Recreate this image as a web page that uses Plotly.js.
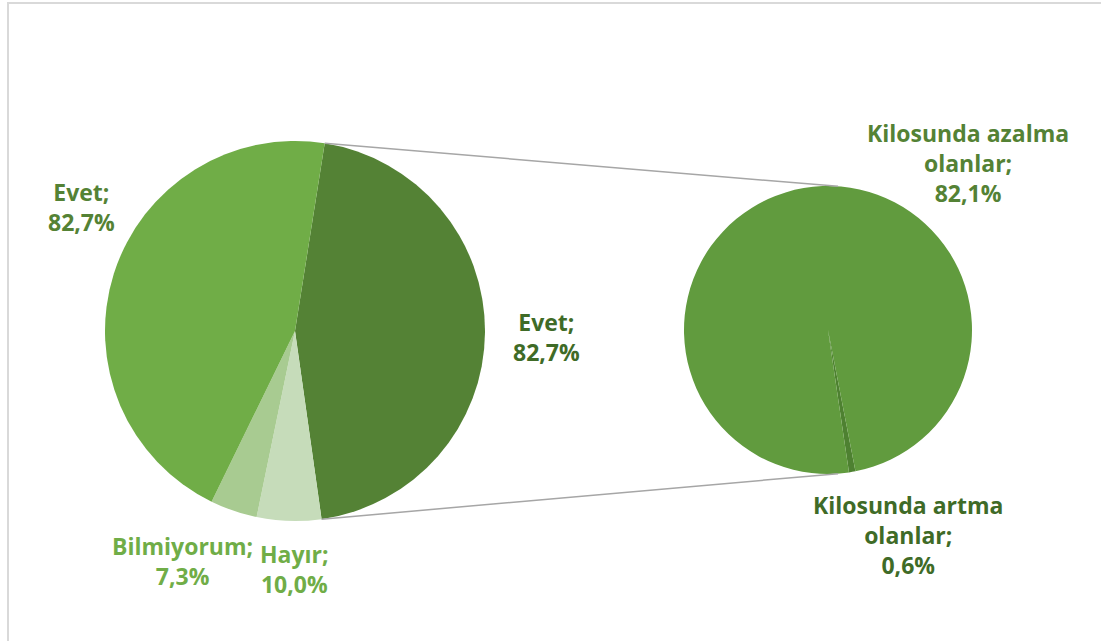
<!DOCTYPE html>
<html><head><meta charset="utf-8">
<script src="https://cdn.plot.ly/plotly-3.0.1.min.js"></script>
<style>
html,body{margin:0;padding:0;background:#fff;}
#chart{width:1101px;height:641px;}
</style></head>
<body><div id="chart"></div>
<script>
// Main pie (order as drawn clockwise from the split slice)
var mainLabels = ["Evet", "Hayır", "Bilmiyorum", "Evet"];
var mainValues = [82.7, 10.0, 7.3, 82.7];
var mainColors = ["#548235", "#C6DCBA", "#A8CB91", "#70AD47"];
var mainLabelColors = ["#3F6B27", "#70AD47", "#70AD47", "#548235"];

// Secondary pie (split of the dark slice)
var subLabels = ["Kilosunda artma olanlar", "Kilosunda azalma olanlar"];
var subValues = [0.6, 82.1];
var subColors = ["#4E8131", "#619B3E"];
var subLabelColors = ["#3F6B27", "#548235"];

var W = 1101, H = 641;
function fmt(v){ return v.toFixed(1).replace('.', ',') + '%'; }
function px(x){ return x / W; }
function py(y){ return 1 - y / H; }

// geometry (layout)
var c1 = {x: 295, y: 331, r: 190}, rot1 = 9;
var c2 = {x: 828, y: 330, r: 144}, rot2 = 169;

var data = [
  {
    type: 'pie', values: mainValues, labels: mainLabels.map(function(l,i){return l+i;}),
    sort: false, direction: 'clockwise', rotation: rot1,
    marker: {colors: mainColors, line: {width: 0}},
    textinfo: 'none', hoverinfo: 'none', showlegend: false,
    domain: {x: [px(c1.x - c1.r), px(c1.x + c1.r)], y: [py(c1.y + c1.r), py(c1.y - c1.r)]}
  },
  {
    type: 'pie', values: subValues, labels: subLabels,
    sort: false, direction: 'clockwise', rotation: rot2,
    marker: {colors: subColors, line: {width: 0}},
    textinfo: 'none', hoverinfo: 'none', showlegend: false,
    domain: {x: [px(c2.x - c2.r), px(c2.x + c2.r)], y: [py(c2.y + c2.r), py(c2.y - c2.r)]}
  }
];

// connector lines from split slice edges to the second pie
var total = mainValues.reduce(function(a,b){return a+b;}, 0);
var a0 = rot1 * Math.PI / 180;
var a1 = (rot1 + 360 * mainValues[0] / total) * Math.PI / 180;
function onCircle(c, a){ return {x: c.x + c.r * Math.sin(a), y: c.y - c.r * Math.cos(a)}; }
var p0 = onCircle(c1, a0), p1 = onCircle(c1, a1);
var q0 = onCircle(c2, 4 * Math.PI / 180), q1 = onCircle(c2, 176 * Math.PI / 180);

var shapes = [
  {type: 'rect', xref: 'paper', yref: 'paper', x0: px(8), x1: px(1120), y0: py(660), y1: py(3),
   line: {color: '#D9D9D9', width: 2}, fillcolor: 'rgba(0,0,0,0)', layer: 'below'},
  {type: 'line', xref: 'paper', yref: 'paper', x0: px(p0.x), y0: py(p0.y), x1: px(q0.x), y1: py(q0.y),
   line: {color: '#A6A6A6', width: 1.5}},
  {type: 'line', xref: 'paper', yref: 'paper', x0: px(p1.x), y0: py(p1.y), x1: px(q1.x), y1: py(q1.y),
   line: {color: '#A6A6A6', width: 1.5}}
];

var font = {family: 'Open Sans, sans-serif', size: 23};
var mainPos = [[546, 337], [294, 569], [182, 561], [81, 207]];
var subPos = [[908, 535], [968, 163]];
var annotations = [];
mainLabels.forEach(function(l, i){
  annotations.push({xref: 'paper', yref: 'paper', x: px(mainPos[i][0]), y: py(mainPos[i][1]),
    xanchor: 'center', yanchor: 'middle', showarrow: false, align: 'center',
    text: '<b>' + l + ';<br>' + fmt(mainValues[i]) + '</b>',
    font: {family: font.family, size: font.size, color: mainLabelColors[i]}});
});
subLabels.forEach(function(l, i){
  var parts = l.split(' ');
  var txt = parts.slice(0, 2).join(' ') + '<br>' + parts.slice(2).join(' ') + ';<br>' + fmt(subValues[i]);
  annotations.push({xref: 'paper', yref: 'paper', x: px(subPos[i][0]), y: py(subPos[i][1]),
    xanchor: 'center', yanchor: 'middle', showarrow: false, align: 'center',
    text: '<b>' + txt + '</b>',
    font: {family: font.family, size: font.size, color: subLabelColors[i]}});
});

var layout = {
  width: W, height: H, margin: {l: 0, r: 0, t: 0, b: 0},
  paper_bgcolor: '#fff', plot_bgcolor: '#fff',
  shapes: shapes, annotations: annotations, showlegend: false
};
Plotly.newPlot('chart', data, layout, {displayModeBar: false, staticPlot: true});
</script></body></html>
